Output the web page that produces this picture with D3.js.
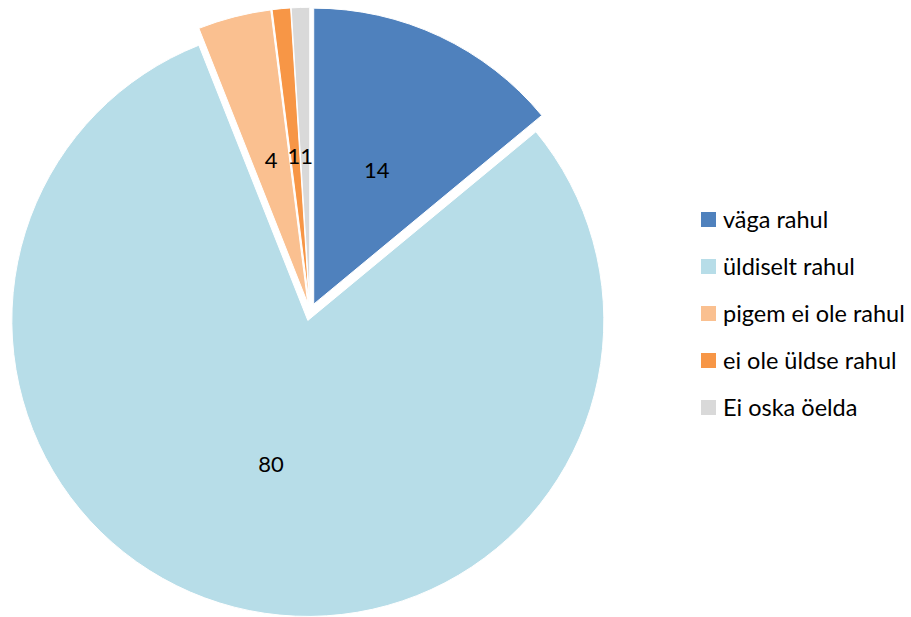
<!DOCTYPE html>
<html>
<head>
<meta charset="utf-8">
<script src="https://cdn.jsdelivr.net/npm/d3@7/dist/d3.min.js"></script>
<style>
  body { margin:0; background:#fff; }
  text { font-family: Lato, "Open Sans", sans-serif; fill:#000; }
</style>
</head>
<body>
<div id="chart"></div>
<script>
// values
const categories = ["väga rahul", "üldiselt rahul", "pigem ei ole rahul", "ei ole üldse rahul", "Ei oska öelda"]
const values = [14, 80, 4, 1, 1]
const colors = ["#4F81BD", "#B7DDE8", "#FAC090", "#F79646", "#D9D9D9"]

let width = 911,
    height = 617,
    cx = 310, cy = 312,
    radius = 296,
    explode = 8.7

let svg = d3.select("#chart").append("svg")
  .attr("width", width).attr("height", height)

let data = categories.map((c, i) => ({ name: c, value: values[i], color: colors[i] }))

let pie = d3.pie().sort(null).value(d => d.value)
let arc = d3.arc().innerRadius(0).outerRadius(radius)
let labelArc = d3.arc().innerRadius(radius * 0.5).outerRadius(radius * 0.5)

let arcs = pie(data)

function offset(d) {
  let a = (d.startAngle + d.endAngle) / 2
  return [Math.sin(a) * explode, -Math.cos(a) * explode]
}

let g = svg.append("g").attr("transform", `translate(${cx},${cy})`)

g.selectAll("path").data(arcs).enter().append("path")
  .attr("transform", d => `translate(${offset(d)})`)
  .attr("d", arc)
  .attr("fill", d => d.data.color)
  .attr("stroke", "#fff")
  .attr("stroke-width", 1)

// label positions; the two tiny slices sit side by side like "11"
let labels = arcs.map(d => {
  let c = labelArc.centroid(d), o = offset(d)
  return { text: d.data.value, x: c[0] + o[0], y: c[1] + o[1], anchor: "middle" }
})
for (let i = 0; i < labels.length - 1; i++) {
  let a = labels[i], b = labels[i + 1]
  if (Math.abs(b.x - a.x) < 14 && Math.abs(b.y - a.y) < 14) {
    let mx = (a.x + b.x) / 2, my = (a.y + b.y) / 2
    a.x = mx; b.x = mx; a.y = my; b.y = my
    a.anchor = "end"; b.anchor = "start"
  }
}

g.selectAll("text.lbl").data(labels).enter().append("text")
  .attr("class", "lbl")
  .attr("x", d => d.x).attr("y", d => d.y)
  .attr("text-anchor", d => d.anchor)
  .attr("dy", "0.36em")
  .attr("font-size", 22)
  .text(d => d.text)

// legend
let legend = svg.append("g").attr("transform", "translate(701,212)")
let item = legend.selectAll("g").data(data).enter().append("g")
  .attr("transform", (d, i) => `translate(0,${i * 47})`)
item.append("rect").attr("width", 15).attr("height", 15).attr("fill", d => d.color)
item.append("text").attr("x", 22).attr("y", 16).attr("font-size", 23.5).text(d => d.name)
</script>
</body>
</html>
